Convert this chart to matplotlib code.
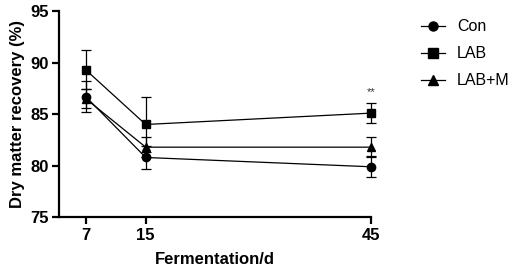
import matplotlib
matplotlib.use('Agg')
import matplotlib.pyplot as plt
from matplotlib.lines import Line2D

plt.rcParams['font.family'] = ['Liberation Sans', 'DejaVu Sans']

# fermentation days and group means / errors
days = [7, 15, 45]
con = [86.7, 80.8, 79.9]
con_err = [1.5, 1.1, 1.0]
lab = [89.3, 84.0, 85.1]
lab_err = [1.9, 2.7, 1.0]
labm = [86.5, 81.8, 81.8]
labm_err = [0.9, 1.0, 1.0]

fig = plt.figure(figsize=(5.1, 2.76), dpi=100)
ax = fig.add_axes([0.1157, 0.2127, 0.6113, 0.7473])

series = [
  ('Con', con, con_err, 'o'),
  ('LAB', lab, lab_err, 's'),
  ('LAB+M', labm, labm_err, '^'),
]
handles = []
for name, vals, err, mk in series:
  lines = ax.errorbar(days, vals, yerr=err, color='black', marker=mk, markersize=6,
                      linewidth=0.9, elinewidth=0.9, capsize=3.5, capthick=0.9)
  for art in lines.get_children():
    art.set_clip_on(False)
  handles.append(Line2D([], [], color='black', marker=mk, markersize=6.5,
                        linewidth=0.9, label=name))

ax.text(days[2], lab[2] + lab_err[2] + 1.0, '**', ha='center', va='center',
        fontsize=8, color='#333333')

ax.set_xlim(3.44, 45)
ax.set_ylim(75, 95)
ax.set_xticks(days)
ax.set_yticks([75, 80, 85, 90, 95])
for s in ['top', 'right']:
  ax.spines[s].set_visible(False)
for s in ['left', 'bottom']:
  ax.spines[s].set_linewidth(1.6)
ax.tick_params(width=1.6, length=5, labelsize=12, pad=2.5)
for lbl in ax.get_xticklabels() + ax.get_yticklabels():
  lbl.set_fontweight('bold')

ax.set_xlabel('Fermentation/d', fontsize=12, fontweight='bold', labelpad=7)
ax.set_ylabel('Dry matter recovery (%)', fontsize=12, fontweight='bold', labelpad=4)

ax.legend(handles=handles, loc='upper left', bbox_to_anchor=(1.115, 1.03),
          frameon=False, fontsize=11.5, handlelength=1.5, handletextpad=0.75,
          labelspacing=0.75)

fig.savefig('out.png', dpi=100)
